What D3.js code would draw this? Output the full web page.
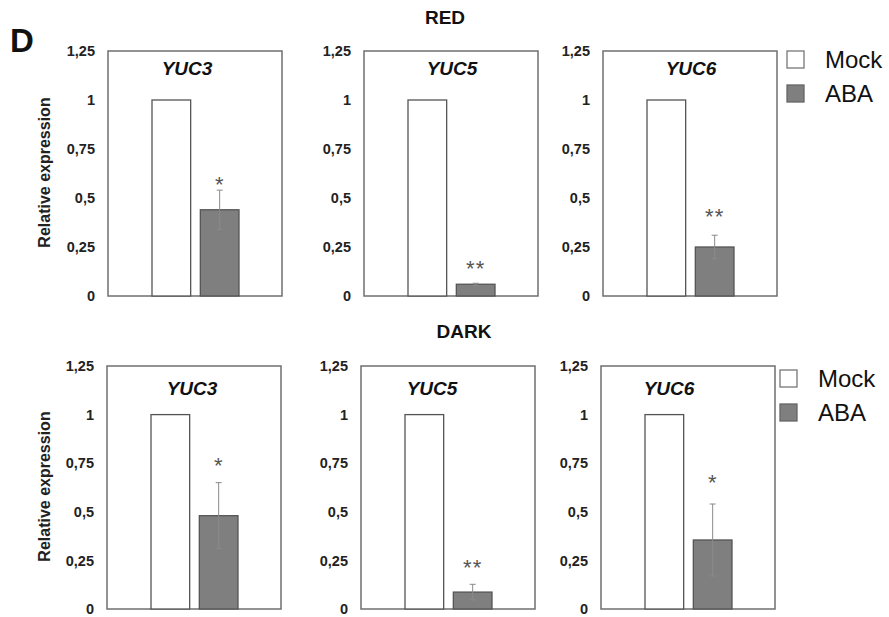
<!DOCTYPE html>
<html>
<head>
<meta charset="utf-8">
<script src="https://cdn.jsdelivr.net/npm/d3@7"></script>
<style>
  body { margin: 0; background: #fff; }
  svg { display: block; font-family: "Liberation Sans", Arial, sans-serif; }
</style>
</head>
<body>
<svg id="chart" width="889" height="617"></svg>
<script>
// data
const conditions = ["RED", "DARK"];
const genes = ["YUC3", "YUC5", "YUC6"];
const treatments = ["Mock", "ABA"];
const yTicks = [0, 0.25, 0.5, 0.75, 1, 1.25];

// [condition][gene]
const mockValues = [[1, 1, 1], [1, 1, 1]];
const abaValues = [[0.44, 0.06, 0.25], [0.48, 0.087, 0.355]];
const abaErrors = [[0.10, 0.005, 0.06], [0.17, 0.04, 0.185]];
const abaStars = [["*", "**", "**"], ["*", "**", "*"]];

// layout
const rowTop = [51, 366];
const rowBottom = [296, 609];
const colLeft = [[108, 364, 603], [107, 361, 601]];
const frameW = 174;
const titleShift = [[-8, 1, 1], [-2, -16, -19]];
const titleDrop = [24, 29];
const starGap = [[10, 19, 23], [22, 21, 26]];
const condLabelPos = [[445, 24], [464, 338]];
const legendPos = [[787, 51], [780, 370]];

const colors = { Mock: "#ffffff", ABA: "#7f7f7f" };

const svg = d3.select("#chart");

const commaLocale = d3.formatLocale({ decimal: ",", thousands: ".", grouping: [3], currency: ["", ""] });
const tickFmt = commaLocale.format("~g");

// panel letter
svg.append("text")
  .attr("x", 10).attr("y", 52)
  .style("font-size", "33px").style("font-weight", "bold")
  .attr("fill", "#111")
  .text("D");

function drawPanel(r, c) {
  const x0 = colLeft[r][c];
  const y = d3.scaleLinear().domain([0, 1.25]).range([rowBottom[r], rowTop[r]]);
  const x = d3.scaleBand().domain(treatments)
    .range([x0 + 44, x0 + frameW - 43])
    .paddingInner(0.2);

  const g = svg.append("g");

  // y axis labels only
  g.append("g")
    .attr("transform", `translate(${x0},0)`)
    .call(d3.axisLeft(y).tickValues(yTicks).tickSize(0).tickPadding(13).tickFormat(tickFmt))
    .call(a => a.select(".domain").remove())
    .call(a => a.selectAll("text")
      .style("font-size", "14.5px")
      .style("font-weight", "bold")
      .style("font-family", "'Liberation Sans', Arial, sans-serif")
      .attr("fill", "#222"));

  // frame
  g.append("rect")
    .attr("x", x0).attr("y", y(1.25))
    .attr("width", frameW).attr("height", y(0) - y(1.25))
    .attr("fill", "none").attr("stroke", "#6f6f6f").attr("stroke-width", 1.5);

  const bars = [
    { t: "Mock", v: mockValues[r][c], e: 0 },
    { t: "ABA", v: abaValues[r][c], e: abaErrors[r][c] }
  ];

  g.selectAll(".bar")
    .data(bars)
    .enter().append("rect")
    .attr("class", "bar")
    .attr("x", d => x(d.t))
    .attr("y", d => y(d.v))
    .attr("width", x.bandwidth())
    .attr("height", d => y(0) - y(d.v))
    .attr("fill", d => colors[d.t])
    .attr("stroke", "#555")
    .attr("stroke-width", 1.3);

  // error bar on ABA
  const aba = bars[1];
  const cx = x("ABA") + x.bandwidth() / 2;
  const err = g.append("g").attr("stroke", "#8a8a8a").attr("stroke-width", 1);
  err.append("line")
    .attr("x1", cx).attr("x2", cx)
    .attr("y1", y(aba.v - aba.e)).attr("y2", y(aba.v + aba.e));
  [aba.v - aba.e, aba.v + aba.e].forEach(v => {
    err.append("line")
      .attr("x1", cx - 3).attr("x2", cx + 3)
      .attr("y1", y(v)).attr("y2", y(v));
  });

  // significance stars
  g.append("text")
    .attr("x", cx)
    .attr("y", y(aba.v + aba.e) - starGap[r][c] + 12)
    .attr("text-anchor", "middle")
    .style("font-size", "22px")
    .style("letter-spacing", "1px")
    .attr("fill", "#555")
    .text(abaStars[r][c]);

  // gene title
  g.append("text")
    .attr("x", x0 + frameW / 2 + titleShift[r][c])
    .attr("y", y(1.25) + titleDrop[r])
    .attr("text-anchor", "middle")
    .style("font-size", "19px")
    .style("font-weight", "bold")
    .style("font-style", "italic")
    .attr("fill", "#111")
    .text(genes[c]);

  if (c === 0) {
    g.append("text")
      .attr("transform", `translate(50,${(y(0) + y(1.25)) / 2 - 1}) rotate(-90)`)
      .attr("text-anchor", "middle")
      .style("font-size", "16px")
      .style("font-weight", "bold")
      .attr("fill", "#222")
      .text("Relative expression");
  }
}

conditions.forEach((cond, r) => {
  svg.append("text")
    .attr("x", condLabelPos[r][0]).attr("y", condLabelPos[r][1])
    .attr("text-anchor", "middle")
    .style("font-size", "19px").style("font-weight", "bold")
    .attr("fill", "#111")
    .text(cond);

  genes.forEach((gene, c) => drawPanel(r, c));

  // legend
  const [lx, ly] = legendPos[r];
  const leg = svg.append("g");
  treatments.forEach((t, i) => {
    leg.append("rect")
      .attr("x", lx).attr("y", ly + i * 34)
      .attr("width", 17).attr("height", 17)
      .attr("fill", colors[t])
      .attr("stroke", t === "Mock" ? "#777" : "#666")
      .attr("stroke-width", 1.3);
    leg.append("text")
      .attr("x", lx + 38).attr("y", ly + 17 + i * 34)
      .style("font-size", "24px")
      .attr("fill", "#111")
      .text(t);
  });
});
</script>
</body>
</html>
